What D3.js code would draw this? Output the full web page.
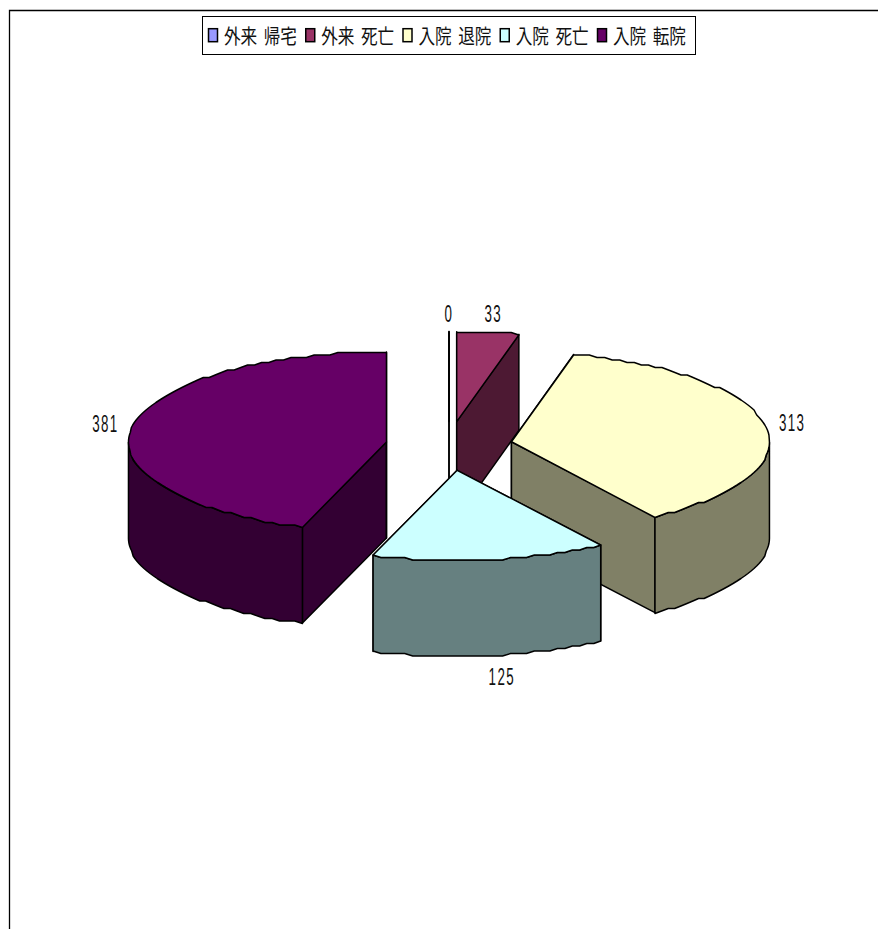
<!DOCTYPE html>
<html><head><meta charset="utf-8">
<script src="https://cdn.jsdelivr.net/npm/d3@7"></script>
<style>html,body{margin:0;padding:0;background:#fff}svg{display:block}
text{font-family:"Noto Sans CJK JP","Noto Sans",sans-serif;fill:#111}
text.num{font-family:"Liberation Sans","DejaVu Sans",sans-serif}</style></head>
<body><svg id="c" width="878" height="929"></svg>
<script>
const categories = ["外来 帰宅","外来 死亡","入院 退院","入院 死亡","入院 転院"];
const values = [0,33,313,125,381];
const topColors = ["#9999ff","#993366","#ffffcc","#ccffff","#660066"];
const sideColors = ["#4d4d80","#4d1933","#808066","#668080","#330033"];
const drawOrder = [0,1,4,2,3];

const W=878,H=929,cx=449,cy=446,rx=258,ry=90,depth=96,explode=63.4,explodeY=24.5,grid=2.5;
const svg=d3.select("#c");
svg.append("path").attr("d",`M${W},10.5H9.5V${H}`).attr("fill","none").attr("stroke","#000").attr("stroke-width",1.3);

const arcs=d3.pie().sort(null).value(d=>d)(values);
const snap=v=>Math.round(v/grid)*grid;
const line=d3.line();
function geom(a){
  const mid=(a.startAngle+a.endAngle)/2;
  const ax=cx+explode*Math.sin(mid), ay=cy-explodeY*Math.cos(mid);
  const rim=t=>[ax+rx*Math.sin(t), ay-ry*Math.cos(t)];
  const rimQ=t=>{const p=rim(t);return [p[0],snap(p[1])];};
  return {mid,ax,ay,rim,rimQ};
}
function samples(t0,t1,step){
  const n=Math.max(1,Math.round((t1-t0)/step)),o=[];
  for(let i=0;i<=n;i++)o.push(t0+(t1-t0)*i/n);
  return o;
}
const stroke=g=>g.attr("stroke","#000").attr("stroke-width",1.5).attr("stroke-linejoin","round");
const step=Math.PI/100;
drawOrder.forEach(i=>{
  const a=arcs[i],g=geom(a),side=sideColors[i],top=topColors[i];
  const face=t=>{
    const p=g.rim(t);
    svg.append("path").attr("d",line([[g.ax,g.ay],p,[p[0],p[1]+depth],[g.ax,g.ay+depth]])+"Z")
      .attr("fill",side).call(stroke);
  };
  face(a.startAngle); face(a.endAngle);
  const w0=Math.max(a.startAngle,Math.PI/2),w1=Math.min(a.endAngle,Math.PI*1.5);
  if(w1>w0){
    const ts=samples(w0,w1,step),up=ts.map(t=>g.rimQ(t));
    const lo=up.slice().reverse().map(p=>[p[0],p[1]+depth]);
    svg.append("path").attr("d",line(up.concat(lo))+"Z").attr("fill",side).call(stroke);
  }
  const pts=[[g.ax,g.ay]].concat(samples(a.startAngle,a.endAngle,step).map(g.rimQ));
  svg.append("path").attr("d",line(pts)+"Z").attr("fill",top).call(stroke);
});

// value labels
arcs.forEach((a,i)=>{
  const g=geom(a),c=Math.cos(g.mid),s=Math.sin(g.mid);
  const x=g.ax+(rx+27)*s+(c<-0.5?8:0)+(c>0.9&&s>0?2:0), y=g.ay-(ry+18)*c+(c<0?depth+4:0);
  svg.append("text").attr("class","num").attr("transform",`translate(${x},${y+8}) scale(.58,1)`)
    .attr("text-anchor","middle").attr("font-size",23).attr("letter-spacing",2.4).text(values[i]);
});

// legend
const lg=svg.append("g");
lg.append("rect").attr("x",202.5).attr("y",16.5).attr("width",493).attr("height",38)
  .attr("fill","#fff").attr("stroke","#000").attr("stroke-width",1);
const lx=d3.scalePoint().domain(categories).range([208,597]);
categories.forEach((c,i)=>{
  lg.append("rect").attr("x",lx(c)+.5).attr("y",28.7).attr("width",9).attr("height",13)
    .attr("fill",topColors[i]).attr("stroke","#000").attr("stroke-width",1.5);
  lg.append("text").attr("transform",`translate(${lx(c)+16},43.5) scale(.83,1)`)
    .attr("font-size",20).attr("word-spacing",3.5).text(c);
});
</script></body></html>
